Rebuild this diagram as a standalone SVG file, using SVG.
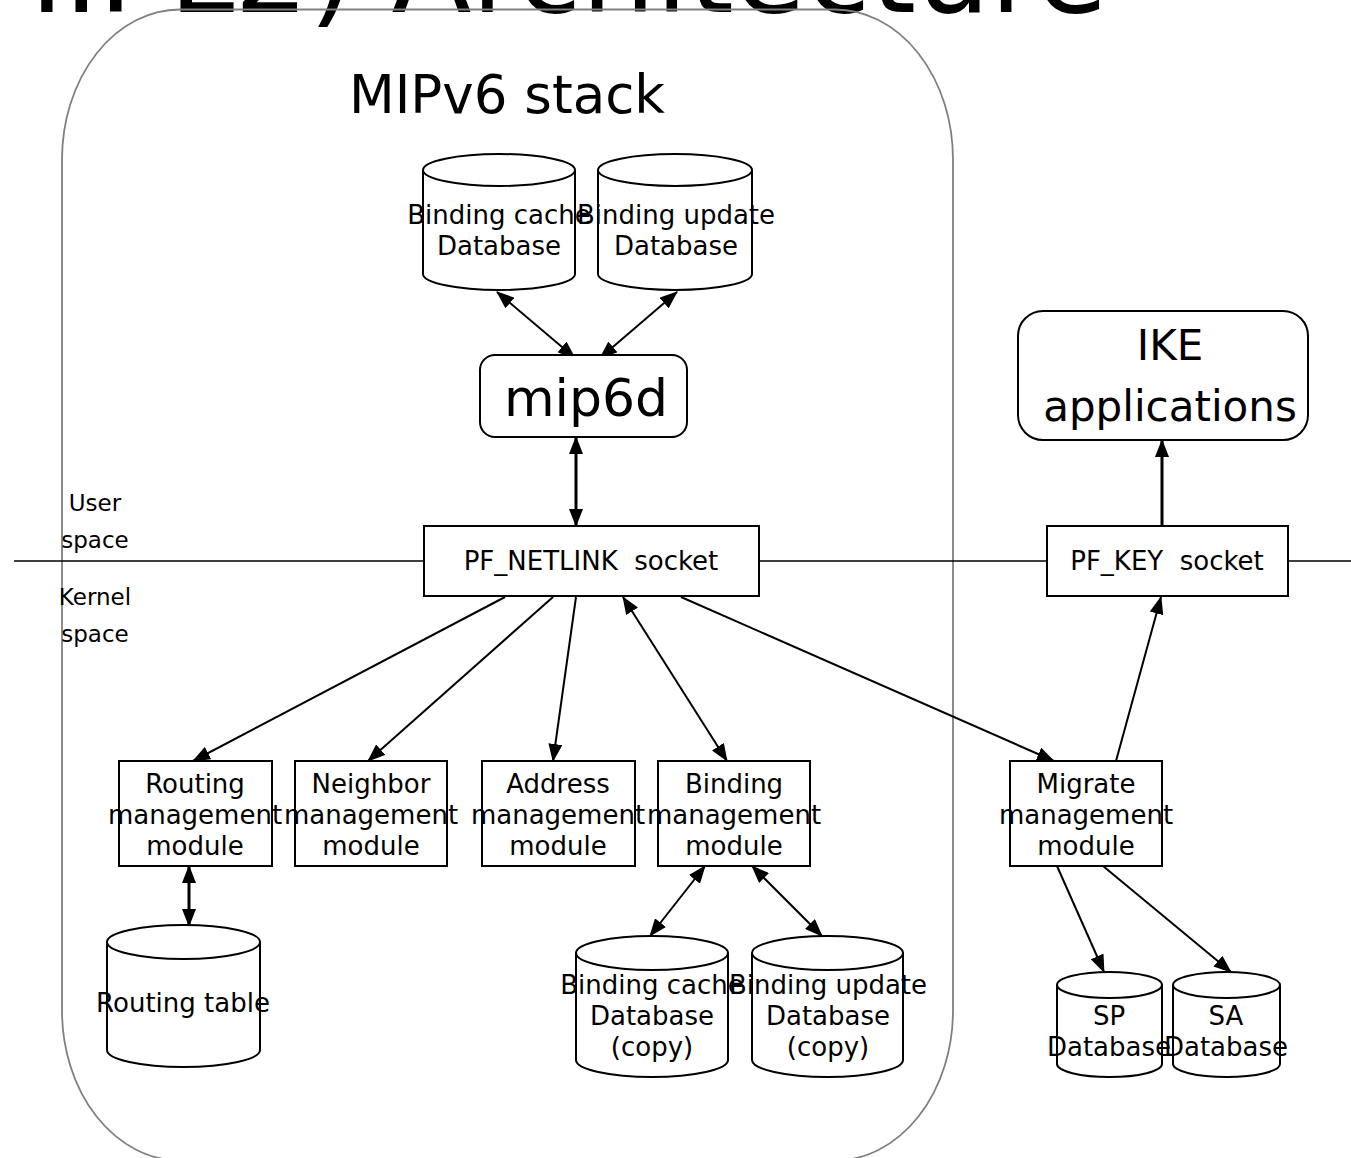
<svg xmlns="http://www.w3.org/2000/svg" width="1351" height="1158" viewBox="0 0 1351 1158">
<defs>
<style>
text{font-family:"DejaVu Sans","Liberation Sans",sans-serif;fill:#000}
.box{fill:#fff;stroke:#000;stroke-width:2}
.db{fill:#fff;stroke:#000;stroke-width:2}
.lbl{font-size:26px;text-anchor:middle}
.sm{font-size:26px;text-anchor:middle;white-space:pre}
.conn{stroke:#000;stroke-width:2;fill:none}
.thick{stroke:#000;stroke-width:3;fill:none}
.sep{stroke:#000;stroke-width:1.5;fill:none}
</style>
<marker id="ah" markerUnits="userSpaceOnUse" markerWidth="18" markerHeight="14" refX="17" refY="7" orient="auto-start-reverse" viewBox="0 0 18 14">
<path d="M0,0 L18,7 L0,14 z" fill="#000"/>
</marker>
</defs>

<text x="-37" y="12" font-size="117">MIPL2) Architecture</text>

<g id="stack-frame">
<rect x="62" y="9.5" width="891" height="1151" rx="118" ry="150" fill="none" stroke="#808080" stroke-width="1.8"/>
<text x="507" y="113" font-size="53" text-anchor="middle">MIPv6 stack</text>
</g>

<g id="separator">
<line class="sep" x1="14" y1="561" x2="424" y2="561"/>
<line class="sep" x1="759" y1="561" x2="1047" y2="561"/>
<line class="sep" x1="1288" y1="561" x2="1351" y2="561"/>
<text x="95" y="511" font-size="23" text-anchor="middle">User</text>
<text x="95" y="548" font-size="23" text-anchor="middle">space</text>
<text x="95" y="605" font-size="23" text-anchor="middle">Kernel</text>
<text x="95" y="642" font-size="23" text-anchor="middle">space</text>
</g>

<g id="connectors">
<line class="conn" x1="497" y1="292" x2="575" y2="358" marker-start="url(#ah)" marker-end="url(#ah)"/>
<line class="conn" x1="677" y1="292" x2="600" y2="358" marker-start="url(#ah)" marker-end="url(#ah)"/>
<line class="thick" x1="576" y1="437" x2="576" y2="526" marker-start="url(#ah)" marker-end="url(#ah)"/>
<line class="thick" x1="1162" y1="526" x2="1162" y2="440" marker-end="url(#ah)"/>
<line class="conn" x1="505" y1="597" x2="193" y2="761" marker-end="url(#ah)"/>
<line class="conn" x1="553" y1="597" x2="368" y2="761" marker-end="url(#ah)"/>
<line class="conn" x1="576" y1="597" x2="553" y2="761" marker-end="url(#ah)"/>
<line class="conn" x1="623" y1="597" x2="727" y2="761" marker-start="url(#ah)" marker-end="url(#ah)"/>
<line class="conn" x1="681" y1="597" x2="1054" y2="761" marker-end="url(#ah)"/>
<line class="conn" x1="1116" y1="761" x2="1161" y2="597" marker-end="url(#ah)"/>
<line class="conn" x1="1057" y1="866" x2="1104" y2="972" marker-end="url(#ah)"/>
<line class="conn" x1="1103" y1="866" x2="1231" y2="972" marker-end="url(#ah)"/>
<line class="thick" x1="189" y1="866" x2="189" y2="926" marker-start="url(#ah)" marker-end="url(#ah)"/>
<line class="conn" x1="705" y1="866" x2="650" y2="936" marker-start="url(#ah)" marker-end="url(#ah)"/>
<line class="conn" x1="752" y1="866" x2="822" y2="936" marker-start="url(#ah)" marker-end="url(#ah)"/>
</g>

<g id="bc-db">
<path class="db" d="M423,170 L423,274 A76,16 0 0 0 575,274 L575,170 A76,16 0 0 0 423,170 Z M423,170 A76,16 0 0 0 575,170"/>
<text class="lbl" x="499" y="224">Binding cache</text>
<text class="lbl" x="499" y="255">Database</text>
</g>
<g id="bu-db">
<path class="db" d="M598,170 L598,274 A77,16 0 0 0 752,274 L752,170 A77,16 0 0 0 598,170 Z M598,170 A77,16 0 0 0 752,170"/>
<text class="lbl" x="676" y="224">Binding update</text>
<text class="lbl" x="676" y="255">Database</text>
</g>

<g id="mip6d">
<rect class="box" x="480" y="355" width="207" height="82" rx="15"/>
<text x="586" y="416" font-size="52" text-anchor="middle">mip6d</text>
</g>

<g id="ike">
<rect class="box" x="1018" y="311" width="290" height="129" rx="25"/>
<text x="1170" y="360" font-size="42" text-anchor="middle">IKE</text>
<text x="1170" y="421" font-size="42" text-anchor="middle">applications</text>
</g>

<g id="pf-netlink">
<rect class="box" x="424" y="526" width="335" height="70"/>
<text class="sm" x="591" y="570" xml:space="preserve">PF_NETLINK  socket</text>
</g>
<g id="pf-key">
<rect class="box" x="1047" y="526" width="241" height="70"/>
<text class="sm" x="1167" y="570" xml:space="preserve">PF_KEY  socket</text>
</g>

<g id="routing-mgmt">
<rect class="box" x="119" y="761" width="153" height="105"/>
<text class="lbl" x="195" y="793">Routing</text>
<text class="lbl" x="195" y="824">management</text>
<text class="lbl" x="195" y="855">module</text>
</g>
<g id="neighbor-mgmt">
<rect class="box" x="295" y="761" width="152" height="105"/>
<text class="lbl" x="371" y="793">Neighbor</text>
<text class="lbl" x="371" y="824">management</text>
<text class="lbl" x="371" y="855">module</text>
</g>
<g id="address-mgmt">
<rect class="box" x="482" y="761" width="153" height="105"/>
<text class="lbl" x="558" y="793">Address</text>
<text class="lbl" x="558" y="824">management</text>
<text class="lbl" x="558" y="855">module</text>
</g>
<g id="binding-mgmt">
<rect class="box" x="658" y="761" width="152" height="105"/>
<text class="lbl" x="734" y="793">Binding</text>
<text class="lbl" x="734" y="824">management</text>
<text class="lbl" x="734" y="855">module</text>
</g>
<g id="migrate-mgmt">
<rect class="box" x="1010" y="761" width="152" height="105"/>
<text class="lbl" x="1086" y="793">Migrate</text>
<text class="lbl" x="1086" y="824">management</text>
<text class="lbl" x="1086" y="855">module</text>
</g>

<g id="routing-table">
<path class="db" d="M107,942 L107,1050 A76.5,17 0 0 0 260,1050 L260,942 A76.5,17 0 0 0 107,942 Z M107,942 A76.5,17 0 0 0 260,942"/>
<text class="lbl" x="183" y="1012">Routing table</text>
</g>

<g id="bc-db-copy">
<path class="db" d="M576,953 L576,1060 A76,17 0 0 0 728,1060 L728,953 A76,17 0 0 0 576,953 Z M576,953 A76,17 0 0 0 728,953"/>
<text class="lbl" x="652" y="994">Binding cache</text>
<text class="lbl" x="652" y="1025">Database</text>
<text class="lbl" x="652" y="1056">(copy)</text>
</g>
<g id="bu-db-copy">
<path class="db" d="M752,953 L752,1060 A75.5,17 0 0 0 903,1060 L903,953 A75.5,17 0 0 0 752,953 Z M752,953 A75.5,17 0 0 0 903,953"/>
<text class="lbl" x="828" y="994">Binding update</text>
<text class="lbl" x="828" y="1025">Database</text>
<text class="lbl" x="828" y="1056">(copy)</text>
</g>

<g id="sp-db">
<path class="db" d="M1057,985 L1057,1064 A52.5,13 0 0 0 1162,1064 L1162,985 A52.5,13 0 0 0 1057,985 Z M1057,985 A52.5,13 0 0 0 1162,985"/>
<text class="lbl" x="1109" y="1025">SP</text>
<text class="lbl" x="1109" y="1056">Database</text>
</g>
<g id="sa-db">
<path class="db" d="M1173,985 L1173,1064 A53.5,13 0 0 0 1280,1064 L1280,985 A53.5,13 0 0 0 1173,985 Z M1173,985 A53.5,13 0 0 0 1280,985"/>
<text class="lbl" x="1226" y="1025">SA</text>
<text class="lbl" x="1226" y="1056">Database</text>
</g>
</svg>
